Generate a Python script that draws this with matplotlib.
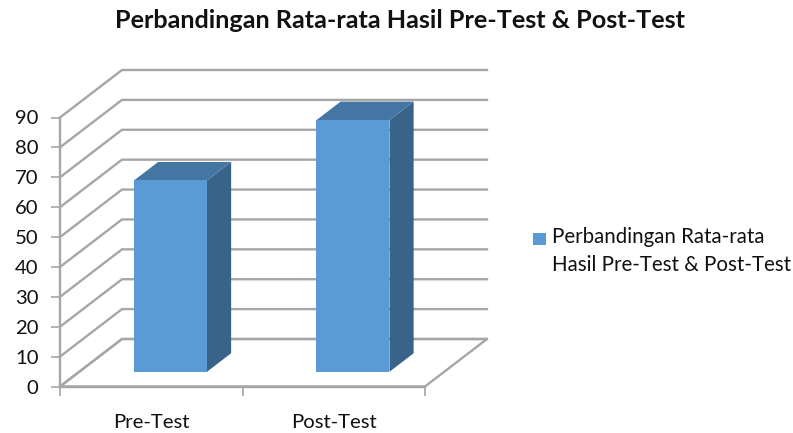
import matplotlib
matplotlib.use("Agg")
import matplotlib.pyplot as plt
from matplotlib.patches import Polygon, Rectangle

plt.rcParams['font.family'] = ['Lato', 'DejaVu Sans']

title = 'Perbandingan Rata-rata Hasil Pre-Test & Post-Test'
categories = ['Pre-Test', 'Post-Test']
values = [64, 84.2]
yticks = [0, 10, 20, 30, 40, 50, 60, 70, 80, 90]
legend_lines = ['Perbandingan Rata-rata', 'Hasil Pre-Test & Post-Test']

W, H = 793, 433
grid_col = '#a6a6a6'
front_col = '#5b9bd5'
top_col = '#4575a3'
side_col = '#3a638a'

fig = plt.figure(figsize=(W / 100, H / 100), dpi=100)
ax = fig.add_axes([60 / W, 1 - 386.5 / H, 365 / W, 269 / H])
ax.set_xlim(0, len(categories))
ax.set_ylim(0, 90)

# depth of the fake 3d box, in data units
depth_x = 62 / 365 * len(categories)
depth_y = 47.5 / 269 * 90
bar_w = 0.4
d0, d1 = 0.31, 0.70


def proj(x, v, d):
    return x + depth_x * d, v + depth_y * d


# side wall + back wall gridlines
for v in yticks:
    xs = [0, depth_x, len(categories) + depth_x]
    ys = [v, v + depth_y, v + depth_y]
    ax.plot(xs, ys, color=grid_col, lw=1.7, clip_on=False, zorder=1, solid_joinstyle='miter')

# floor
fx = [0, len(categories), len(categories) + depth_x, depth_x]
fy = [0, 0, depth_y, depth_y]
ax.add_patch(Polygon(list(zip(fx, fy)), closed=True, fill=False, edgecolor=grid_col, lw=1.7,
                     clip_on=False, zorder=1))

# bars
for i, v in enumerate(values):
    x0 = i + 0.5 - bar_w / 2
    x1 = i + 0.5 + bar_w / 2
    front = [proj(x0, 0, d0), proj(x1, 0, d0), proj(x1, v, d0), proj(x0, v, d0)]
    side = [proj(x1, 0, d0), proj(x1, 0, d1), proj(x1, v, d1), proj(x1, v, d0)]
    top = [proj(x0, v, d0), proj(x1, v, d0), proj(x1, v, d1), proj(x0, v, d1)]
    ax.add_patch(Polygon(side, closed=True, facecolor=side_col, edgecolor='none', clip_on=False, zorder=3))
    ax.add_patch(Polygon(top, closed=True, facecolor=top_col, edgecolor='none', clip_on=False, zorder=3))
    ax.add_patch(Polygon(front, closed=True, facecolor=front_col, edgecolor='none', clip_on=False, zorder=4))

for s in ['top', 'right']:
    ax.spines[s].set_visible(False)
for s in ['left', 'bottom']:
    ax.spines[s].set_color(grid_col)
    ax.spines[s].set_linewidth(1.7)
ax.patch.set_visible(False)

ax.set_yticks(yticks)
ax.tick_params(axis='y', length=6.5, width=1.2, color=grid_col, labelsize=14.6, labelcolor='#111111', pad=9)
ax.set_xticks(range(len(categories) + 1))
ax.set_xticklabels([])
ax.tick_params(axis='x', which='major', length=6.5, width=1.2, color=grid_col)
ax.set_xticks([i + 0.5 for i in range(len(categories))], minor=True)
ax.set_xticklabels(categories, minor=True)
ax.tick_params(axis='x', which='minor', length=0, labelsize=14.6, labelcolor='#111111', pad=20)

fig.text(400 / W, 1 - 21 / H, title, ha='center', va='center', fontsize=18.2, fontweight='bold', color='#111111')

# legend placed by hand, the swatch sits on the first line only
fig.add_artist(Rectangle((533 / W, 1 - 245 / H), 12.5 / W, 12.5 / H, transform=fig.transFigure,
                         facecolor=front_col, edgecolor='none'))
fig.text(552 / W, 1 - 237 / H, legend_lines[0], ha='left', va='center', fontsize=14.8, color='#111111')
fig.text(552 / W, 1 - 265 / H, legend_lines[1], ha='left', va='center', fontsize=14.8, color='#111111')

fig.savefig('out.png', dpi=100)
